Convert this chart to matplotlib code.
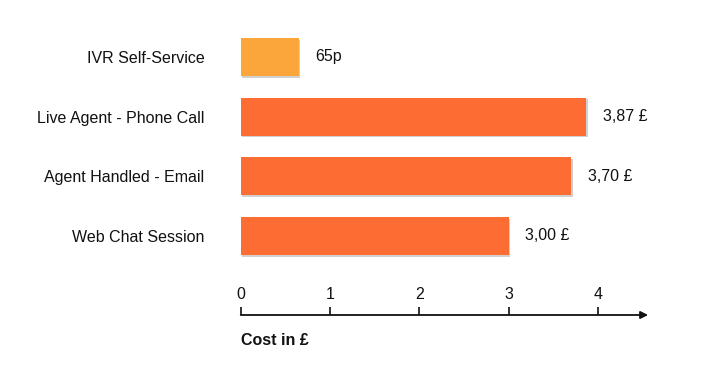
import matplotlib
matplotlib.use("Agg")
import matplotlib.pyplot as plt
import matplotlib.patheffects as pe

categories = ["IVR Self-Service", "Live Agent - Phone Call", "Agent Handled - Email", "Web Chat Session"]
values = [0.65, 3.87, 3.70, 3.00]
value_labels = ["65p", "3,87 £", "3,70 £", "3,00 £"]
colors = ["#FBA63B", "#FD6C33", "#FD6C33", "#FD6C33"]
xticks = [0, 1, 2, 3, 4]
xlabel = "Cost in £"

plt.rcParams['font.family'] = ['Liberation Sans', 'DejaVu Sans']
FS = 11.5

W, H = 710, 381
fig = plt.figure(figsize=(W / 100, H / 100), dpi=100)

px_per_unit = 89.35
x0 = 240.7
xmax = 4.6
left = x0 / W
width = xmax * px_per_unit / W

top_px, bot_px = 21.2, 271.8
ax = fig.add_axes([left, 1 - bot_px / H, width, (bot_px - top_px) / H])
ypos = list(range(len(categories)))
bars = ax.barh(ypos, values, height=0.64, color=colors, edgecolor='none')
for b in bars:
    b.set_path_effects([pe.SimplePatchShadow(offset=(1.2, -1.2), alpha=0.3, shadow_rgbFace='#666666'), pe.Normal()])
ax.set_xlim(0, xmax)
ax.set_ylim(3.6, -0.6)
ax.set_yticks(ypos)
ax.set_yticklabels(categories, fontsize=FS, color='#111111')
ax.tick_params(axis='y', length=0, pad=26)
ax.set_xticks([])
for s in ax.spines.values():
    s.set_visible(False)
for y, v, lab in zip(ypos, values, value_labels):
    ax.annotate(lab, xy=(v, y), xytext=(12, 0), textcoords='offset points',
                ha='left', va='center', fontsize=FS, color='#111111')

# x axis drawn below
line_px = 315
tick_px = 8
ax2 = fig.add_axes([left, 1 - line_px / H, width, tick_px / H])
ax2.set_xlim(0, xmax)
ax2.set_ylim(0, 1)
for s in ax2.spines.values():
    s.set_visible(False)
ax2.set_yticks([])
ax2.set_xticks(xticks)
ax2.set_xticklabels([str(t) for t in xticks], fontsize=FS, color='#111111')
ax2.tick_params(axis='x', direction='in', length=tick_px * 0.72, width=1.2, color='#111111',
                bottom=True, top=False, labelbottom=False, labeltop=True, pad=3.5)
ax2.patch.set_visible(False)
ax2.annotate('', xy=(4.56, 0), xytext=(0, 0), xycoords='data',
             arrowprops=dict(arrowstyle='-|>', color='#111111', lw=1.3, mutation_scale=11,
                             shrinkA=0, shrinkB=0), annotation_clip=False)
ax2.text(0, -3.2, xlabel, transform=ax2.transData, fontsize=FS, fontweight='bold',
         ha='left', va='center', color='#111111')

fig.savefig("out.png", dpi=100)
